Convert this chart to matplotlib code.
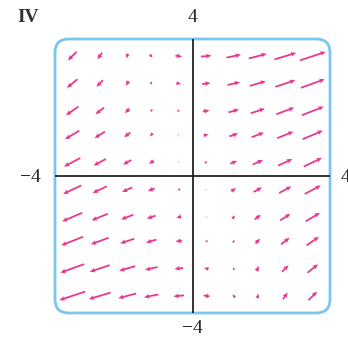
import numpy as np
import matplotlib.pyplot as plt
from matplotlib.patches import FancyBboxPatch

# grid of sample points (columns left->right, rows top->bottom)
xs = [-3.5, -2.7, -1.9, -1.2, -0.4, 0.4, 1.2, 1.9, 2.7, 3.5]
ys = [3.5, 2.7, 1.9, 1.2, 0.4, -0.4, -1.2, -1.9, -2.7, -3.5]

# horizontal components, one row per y value
U = [
    [-3.5, -1.9, -0.3, 1.1, 2.7, 4.3, 5.9, 7.3, 8.9, 10.5],
    [-4.3, -2.7, -1.1, 0.3, 1.9, 3.5, 5.1, 6.5, 8.1, 9.7],
    [-5.1, -3.5, -1.9, -0.5, 1.1, 2.7, 4.3, 5.7, 7.3, 8.9],
    [-5.8, -4.2, -2.6, -1.2, 0.4, 2.0, 3.6, 5.0, 6.6, 8.2],
    [-6.6, -5.0, -3.4, -2.0, -0.4, 1.2, 2.8, 4.2, 5.8, 7.4],
    [-7.4, -5.8, -4.2, -2.8, -1.2, 0.4, 2.0, 3.4, 5.0, 6.6],
    [-8.2, -6.6, -5.0, -3.6, -2.0, -0.4, 1.2, 2.6, 4.2, 5.8],
    [-8.9, -7.3, -5.7, -4.3, -2.7, -1.1, 0.5, 1.9, 3.5, 5.1],
    [-9.7, -8.1, -6.5, -5.1, -3.5, -1.9, -0.3, 1.1, 2.7, 4.3],
    [-10.5, -8.9, -7.3, -5.9, -4.3, -2.7, -1.1, 0.3, 1.9, 3.5],
]
# vertical component is the same down each column
V_cols = [-3.5, -2.7, -1.9, -1.2, -0.4, 0.4, 1.2, 1.9, 2.7, 3.5]

X, Y = np.meshgrid(xs, ys)
U = np.array(U)
V = np.tile(V_cols, (len(ys), 1))

fig = plt.figure(figsize=(3.48, 3.49), dpi=100)
ax = fig.add_axes([55 / 348, 1 - 313 / 349, 275 / 348, 274 / 349])
ax.set_xlim(-4, 4)
ax.set_ylim(-4, 4)
ax.axis("off")

# rounded frame
frame = FancyBboxPatch((-4, -4), 8, 8, boxstyle="round,pad=0,rounding_size=0.4",
                       fill=False, edgecolor="#79C6EE", linewidth=2.0, clip_on=False, zorder=1)
ax.add_patch(frame)

# coordinate axes
ax.plot([-4, 4], [0, 0], color="#222222", lw=1.3, zorder=2)
ax.plot([0, 0], [-4, 4], color="#222222", lw=1.3, zorder=2)

ax.quiver(X, Y, U, V, color="#E8388E", pivot="middle", angles="xy",
          scale_units="xy", scale=14, width=0.0065, headwidth=2.6,
          headlength=3.0, headaxislength=2.7, minlength=0.5, zorder=3)

tk = dict(fontsize=14, family="Liberation Serif", color="#222222")
ax.text(0, 4.64, "4", ha="center", va="center", **tk)
ax.text(0, -4.46, "\u22124", ha="center", va="center", **tk)
ax.text(-4.73, -0.05, "\u22124", ha="center", va="center", **tk)
ax.text(4.32, -0.05, "4", ha="left", va="center", **tk)
ax.text(-4.78, 4.64, "IV", ha="center", va="center", fontsize=14,
        family="Liberation Serif", fontweight="bold", color="#333333")

fig.savefig("out.png", dpi=100)
